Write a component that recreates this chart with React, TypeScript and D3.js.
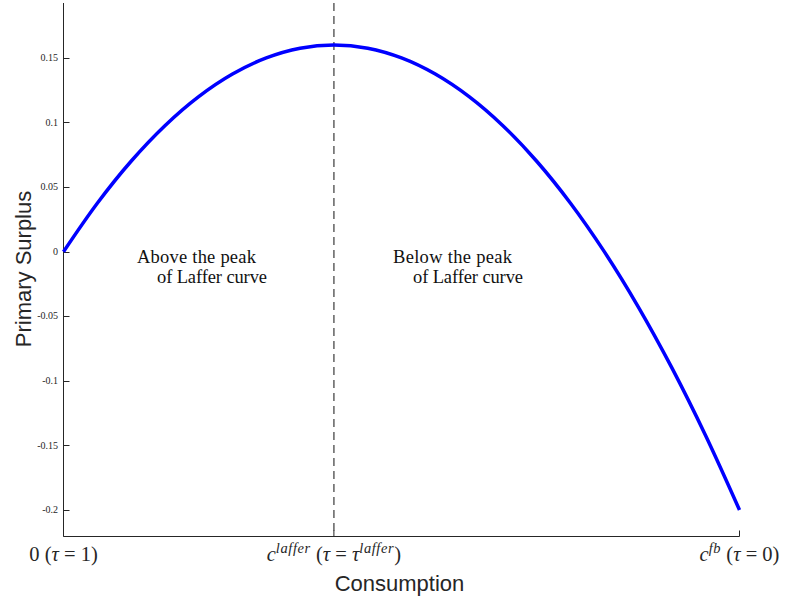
import React from 'react';
import * as d3 from 'd3';

// consumption grid (0 = c at tau=1, 1 = first-best consumption)
const consumption = [0, 0.05, 0.1, 0.15, 0.2, 0.25, 0.3, 0.35, 0.4, 0.45, 0.5, 0.55, 0.6, 0.65, 0.7, 0.75, 0.8, 0.85, 0.9, 0.95, 1];
const surplus = [0, 0.0375, 0.07, 0.0975, 0.12, 0.1375, 0.15, 0.1575, 0.16, 0.1575, 0.15, 0.1375, 0.12, 0.0975, 0.07, 0.0375, 0, -0.0425, -0.09, -0.1425, -0.2];

const yTicks = [-0.2, -0.15, -0.1, -0.05, 0, 0.05, 0.1, 0.15];
const yTickLabels = ['-0.2', '-0.15', '-0.1', '-0.05', '0', '0.05', '0.1', '0.15'];
const xTicks = [0, 0.4, 1];
const lafferX = 0.4;

const W = 787;
const H = 598;
const axisColor = '#262626';
const serif = '"Liberation Serif", "DejaVu Serif", serif';
const sans = '"Liberation Sans", Arial, sans-serif';
const sp = '\u2005';

export default function App() {
  const x = d3.scaleLinear().domain([0, 1]).range([63.5, 739.5]);
  const y = d3.scaleLinear().domain([-0.2205, 0.1925]).range([536.5, 3]);

  const points = consumption.map((c, i) => [c, surplus[i]] as [number, number]);
  const line = d3
    .line<[number, number]>()
    .x((d) => x(d[0]))
    .y((d) => y(d[1]))
    .curve(d3.curveCatmullRom.alpha(0.5));

  const sup = { fontSize: 14.5, fontStyle: 'italic' as const, letterSpacing: 0.6 };

  const xLabels = [
    <>
      0{sp}(<tspan fontStyle="italic">τ</tspan>{sp}={sp}1)
    </>,
    <>
      <tspan fontStyle="italic">c</tspan>
      <tspan dy={-8} {...sup}>laffer</tspan>
      <tspan dy={8}>{sp}(</tspan>
      <tspan fontStyle="italic">τ</tspan>{sp}={sp}<tspan fontStyle="italic">τ</tspan>
      <tspan dy={-8} {...sup}>laffer</tspan>
      <tspan dy={8}>)</tspan>
    </>,
    <>
      <tspan fontStyle="italic">c</tspan>
      <tspan dy={-8} {...sup}>fb</tspan>
      <tspan dy={8}>{sp}(</tspan>
      <tspan fontStyle="italic">τ</tspan>{sp}={sp}0)
    </>,
  ];

  return (
    <svg width={W} height={H} style={{ position: 'absolute', left: 0, top: 0, background: '#fff' }}>
      {/* laffer peak marker */}
      <line
        x1={x(lafferX)}
        x2={x(lafferX)}
        y1={y.range()[1]}
        y2={y.range()[0]}
        stroke="#6b6b6b"
        strokeWidth={1.6}
        strokeDasharray="8,5"
      />

      {/* y axis */}
      <line x1={x(0)} x2={x(0)} y1={y.range()[1]} y2={y.range()[0]} stroke={axisColor} strokeWidth={1} />
      {yTicks.map((t, i) => (
        <g key={t}>
          <line x1={x(0)} x2={x(0) + 6} y1={Math.round(y(t)) + 0.5} y2={Math.round(y(t)) + 0.5} stroke={axisColor} />
          <text
            x={x(0) - 5.5}
            y={y(t)}
            dy="0.32em"
            textAnchor="end"
            fontFamily={serif}
            fontSize={10}
            fill={axisColor}
          >
            {yTickLabels[i]}
          </text>
        </g>
      ))}

      {/* x axis */}
      <line x1={x(0)} x2={x(1)} y1={y.range()[0]} y2={y.range()[0]} stroke={axisColor} strokeWidth={1} />
      {xTicks.map((t, i) => (
        <g key={t}>
          <line x1={x(t)} x2={x(t)} y1={y.range()[0]} y2={y.range()[0] - 6} stroke={axisColor} />
          <text x={x(t)} y={561} textAnchor="middle" fontFamily={serif} fontSize={20.5} fill={axisColor}>
            {xLabels[i]}
          </text>
        </g>
      ))}

      {/* curve */}
      <path d={line(points) || ''} fill="none" stroke="#0000ff" strokeWidth={3.5} />

      {/* annotations */}
      <g fontFamily={serif} fontSize={18.5} fill="#111">
        <text x={137} y={263} textLength={119}>Above the peak</text>
        <text x={157} y={283} textLength={110}>of Laffer curve</text>
        <text x={393} y={263} textLength={119}>Below the peak</text>
        <text x={413} y={283} textLength={110}>of Laffer curve</text>
      </g>

      {/* axis titles */}
      <text x={399.5} y={591} textAnchor="middle" fontFamily={sans} fontSize={22} fill={axisColor}>
        Consumption
      </text>
      <text
        transform={`translate(31, 269) rotate(-90)`}
        textAnchor="middle"
        fontFamily={sans}
        fontSize={22}
        fill={axisColor}
      >
        Primary Surplus
      </text>
    </svg>
  );
}
